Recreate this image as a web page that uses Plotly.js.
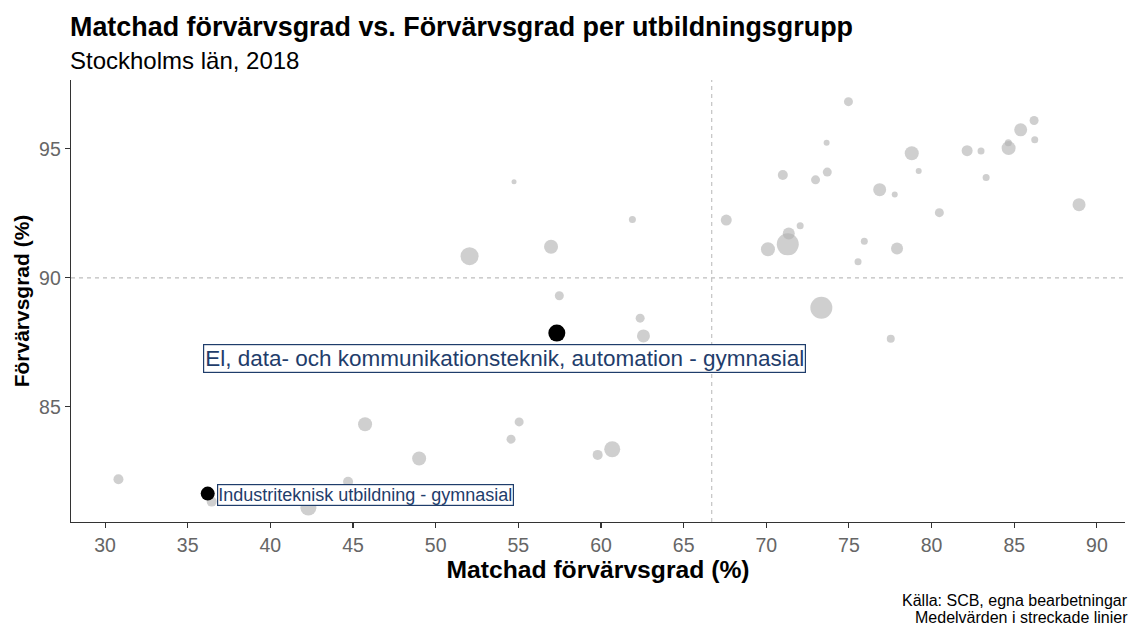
<!DOCTYPE html>
<html>
<head>
<meta charset="utf-8">
<script src="https://cdn.plot.ly/plotly-3.0.1.min.js"></script>
<style>html,body{margin:0;padding:0;background:#fff;}#chart{width:1129px;height:625px;}</style>
</head>
<body>
<div id="chart"></div>
<script>
// Grey points: all education groups
const matchadGrad = [54.74,52.05,56.98,61.9,67.58,71.0,70.1,71.3,71.36,57.48,74.97,73.65,72.98,73.69,78.8,79.22,76.86,77.77,80.47,82.15,82.99,83.3,84.66,84.64,85.39,86.2,86.24,88.92,72.05,75.93,75.55,77.91,73.33,77.53,30.81,36.45,42.3,44.7,45.73,49.0,62.37,62.57,55.05,54.56,59.8,60.68];
const forvarvsGrad = [93.73,90.84,91.21,92.26,92.24,93.99,91.11,91.3,91.72,89.31,96.83,95.24,93.80,94.10,94.83,94.14,93.42,93.23,92.53,94.93,94.92,93.89,95.03,95.24,95.74,96.1,95.35,92.84,92.02,91.42,90.63,91.14,88.84,87.64,82.2,81.33,81.1,82.1,84.33,83.0,88.44,87.75,84.42,83.75,83.14,83.36];
const antal = [5,18,14,7,11,10,14,22,12,9,9,6,9,9,14,6,13,6,9,11,7,7,14,7,13,9,7,13,7,7,7,12,22,8,10,10,16,10,14,14,9,13,9,9,10,16];

// Highlighted groups
const markGrupper = ["El, data- och kommunikationsteknik, automation - gymnasial", "Industriteknisk utbildning - gymnasial"];
const markMatchad = [57.33, 36.21];
const markForvarv = [87.86, 81.64];
const markAntal = [17, 14];

// Means (dashed lines)
const medelMatchad = 66.7;
const medelForvarv = 90.0;

const xTicks = [30,35,40,45,50,55,60,65,70,75,80,85,90];
const yTicks = [85,90,95];

const captionLines = ['Källa: SCB, egna bearbetningar', 'Medelvärden i streckade linier'];

const navy = '#1f3d6b';
const FONT = 'Liberation Sans, Arial, sans-serif';

const traces = [
  {
    type: 'scatter', mode: 'markers',
    x: matchadGrad, y: forvarvsGrad,
    marker: {size: antal, color: 'rgba(178,178,178,0.62)', opacity: 1, line: {width: 0}},
    hoverinfo: 'skip', showlegend: false
  },
  {
    type: 'scatter', mode: 'markers',
    x: markMatchad, y: markForvarv, text: markGrupper,
    marker: {size: markAntal, color: '#000000', opacity: 1, line: {width: 0}},
    showlegend: false
  }
];

const labelStyles = [
  {size: 22.5, xanchor: 'center', xshift: -52, yshift: -25, borderpad: 1},
  {size: 18, xanchor: 'left', xshift: 9, yshift: -1, borderpad: 0}
];

const annotations = markGrupper.map((g, i) => ({
  x: markMatchad[i], y: markForvarv[i], xref: 'x', yref: 'y',
  text: g, showarrow: false,
  xanchor: labelStyles[i].xanchor, yanchor: 'middle',
  xshift: labelStyles[i].xshift, yshift: labelStyles[i].yshift,
  font: {family: FONT, size: labelStyles[i].size, color: navy},
  bgcolor: '#ffffff', bordercolor: navy, borderwidth: 1.2, borderpad: labelStyles[i].borderpad
}));

annotations.push({
  xref: 'paper', yref: 'paper', x: 0, y: 1.045, xanchor: 'left', yanchor: 'middle', xshift: -3,
  text: 'Stockholms län, 2018', showarrow: false,
  font: {family: FONT, size: 24, color: '#000'}
});
captionLines.forEach((t, i) => annotations.push({
  xref: 'paper', yref: 'paper', x: 1, y: (522 - 600 - 17 * i) / 442, xanchor: 'right', yanchor: 'middle', xshift: 5,
  showarrow: false, text: t,
  font: {family: FONT, size: 16, color: '#000'}
}));

const layout = {
  width: 1129, height: 625,
  margin: {l: 71, r: 4, t: 80, b: 103},
  paper_bgcolor: '#fff', plot_bgcolor: '#fff',
  font: {family: FONT},
  title: {
    text: '<b>Matchad förvärvsgrad vs. Förvärvsgrad per utbildningsgrupp</b>',
    x: 70/1129, xanchor: 'left', xref: 'container',
    y: 1 - 27/625, yanchor: 'middle', yref: 'container',
    font: {size: 26.9, color: '#000', family: FONT}
  },
  xaxis: {
    range: [27.94, 91.7], tickvals: xTicks, ticktext: xTicks.map(String),
    showgrid: false, zeroline: false,
    showline: true, linecolor: '#333', linewidth: 1.3,
    ticks: 'outside', ticklen: 5, tickcolor: '#333', tickwidth: 1.1,
    tickfont: {size: 19.5, color: '#666'},
    title: {text: '<b>Matchad förvärvsgrad (%)</b>', font: {size: 24.7, color: '#000'}, standoff: 6}
  },
  yaxis: {
    range: [80.54, 97.67], tickvals: yTicks, ticktext: yTicks.map(String),
    showgrid: false, zeroline: false,
    showline: true, linecolor: '#333', linewidth: 1.3,
    ticks: 'outside', ticklen: 5, tickcolor: '#333', tickwidth: 1.1,
    tickfont: {size: 19.5, color: '#666'},
    title: {text: '<b>Förvärvsgrad (%)</b>', font: {size: 21, color: '#000'}, standoff: 3}
  },
  shapes: [
    {type: 'line', xref: 'x', yref: 'paper', x0: medelMatchad, x1: medelMatchad, y0: 0, y1: 1,
     line: {color: '#bdbdbd', width: 1.1, dash: '4px,4px'}, layer: 'below'},
    {type: 'line', xref: 'paper', yref: 'y', x0: 0, x1: 1, y0: medelForvarv, y1: medelForvarv,
     line: {color: '#bdbdbd', width: 1.1, dash: '4px,4px'}, layer: 'below'}
  ],
  annotations: annotations,
  showlegend: false
};

Plotly.newPlot('chart', traces, layout, {displayModeBar: false, staticPlot: true});
</script>
</body>
</html>
